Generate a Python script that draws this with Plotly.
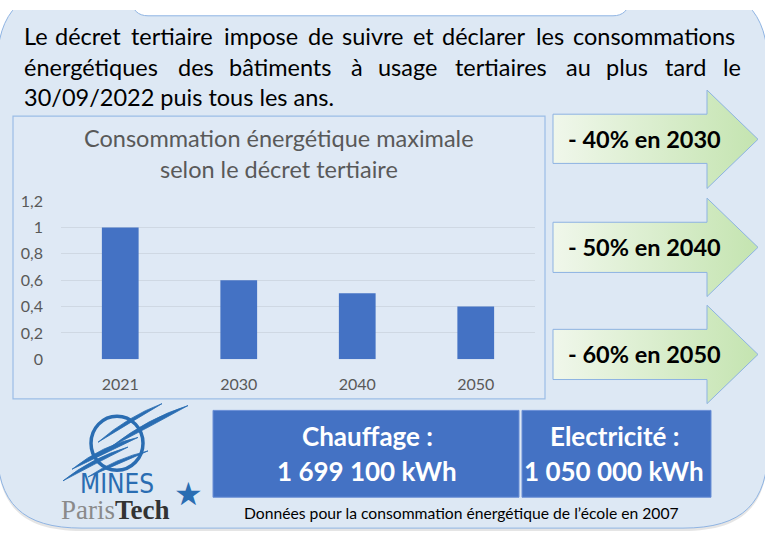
import plotly.graph_objects as go

# ---------------- data ----------------
years = ["2021", "2030", "2040", "2050"]
max_consumption = [1.0, 0.6, 0.5, 0.4]
y_tick_vals = [0, 0.2, 0.4, 0.6, 0.8, 1.0, 1.2]
y_tick_text = ["0", "0,2", "0,4", "0,6", "0,8", "1", "1,2"]
chart_title = ["Consommation énergétique maximale", "selon le décret tertiaire"]
arrow_labels = ["- 40% en 2030", "- 50% en 2040", "- 60% en 2050"]
energy_titles = ["Chauffage :", "Electricité :"]
energy_values = ["1 699 100 kWh", "1 050 000 kWh"]
intro_line1 = "Le décret tertiaire impose de suivre et déclarer les consommations"
intro_line2 = "énergétiques des bâtiments à usage tertiaires au plus tard le"
intro_line3 = "30/09/2022 puis tous les ans."
footnote = "Données pour la consommation énergétique de l’école en 2007"

# ---------------- styles / layout geometry (screen pixels) ----------------
W, H = 765, 540
FONT = "Lato, 'Open Sans', sans-serif"
BG = "#dde8f4"
EDGE = "#8fb4e3"
BLUE = "#4472c4"
GRAY = "#595959"
LOGO = "#2a6db2"

line1_x = [22, 53, 129, 222, 306, 340, 411, 440, 534, 571]
line2_x = [22, 176, 227, 349, 376, 453, 564, 604, 663, 721]
arrow_geo = [(108, 159, 83, 185), (220, 272, 195, 297), (331, 383, 306, 408)]


def rounded_path(x0, y0, x1, y1, r, k=0.62):
    c = r * (1 - k)
    return (f"M {x0+r},{y0} L {x1-r},{y0} C {x1-c},{y0} {x1},{y0+c} {x1},{y0+r} "
            f"L {x1},{y1-r} C {x1},{y1-c} {x1-c},{y1} {x1-r},{y1} "
            f"L {x0+r},{y1} C {x0+c},{y1} {x0},{y1-c} {x0},{y1-r} "
            f"L {x0},{y0+r} C {x0},{y0+c} {x0+c},{y0} {x0+r},{y0} Z")


def swoosh(ax, ay, cx, cy, bx, by, w):
    # tapered curved stroke (thin at both ends)
    return (f"M {ax},{ay} Q {cx},{cy - w} {bx},{by} Q {cx},{cy + w} {ax},{ay} Z")


def txt(x, y, text, size, color="#000000", family=FONT, xanchor="left"):
    return dict(x=x, y=y, xref="x", yref="y", text=text, showarrow=False,
                xanchor=xanchor, yanchor="middle",
                font=dict(family=family, size=size, color=color))


traces = []
annotations = []

# arrows with horizontal gradient (pixel axes x/y)
for (bt, bb, ht, hb), lab in zip(arrow_geo, arrow_labels):
    x0, xh, xt = 553, 707, 758
    mid = (ht + hb) / 2
    traces.append(go.Scatter(
        x=[x0, xh, xh, xt, xh, xh, x0, x0],
        y=[bt, bt, ht, mid, hb, bb, bb, bt],
        mode="lines", fill="toself",
        fillgradient=dict(type="horizontal",
                          colorscale=[[0, "#f0f7eb"], [1, "#c4e4b0"]]),
        line=dict(color="#8db3e2", width=1),
        hoverinfo="skip", showlegend=False, xaxis="x", yaxis="y"))
    annotations.append(txt(566, mid, f"<b>{lab}</b>", 23.5))

# bar chart (x2/y2)
traces.append(go.Bar(x=years, y=max_consumption, marker=dict(color=BLUE, line=dict(width=0)),
                     xaxis="x2", yaxis="y2", showlegend=False, hoverinfo="skip"))

fig = go.Figure(data=traces)

shapes = []
shapes.append(dict(type="path", xref="x", yref="y", layer="below",
                   path=rounded_path(-3, -22, 768, 540, 85, 0.7),
                   fillcolor="rgba(0,0,0,0.10)", line=dict(width=0)))
shapes.append(dict(type="path", xref="x", yref="y", layer="below",
                   path=rounded_path(-3, -25, 768, 537, 85, 0.7),
                   fillcolor=BG, line=dict(color=EDGE, width=1)))
shapes.append(dict(type="path", xref="x", yref="y", layer="below",
                   path=rounded_path(132, -30, 629, 6, 16),
                   fillcolor="#ffffff", line=dict(color=EDGE, width=1)))
shapes.append(dict(type="rect", xref="x", yref="y", layer="below",
                   x0=13, x1=545, y0=110, y1=403,
                   fillcolor="#dfe9f5", line=dict(color="#9cbde6", width=1.2)))
shapes.append(dict(type="rect", xref="x", yref="y", layer="above",
                   x0=213, x1=519, y0=415, y1=505,
                   fillcolor=BLUE, line=dict(color="#6a8fd6", width=1)))
shapes.append(dict(type="rect", xref="x", yref="y", layer="above",
                   x0=522, x1=711, y0=415, y1=505,
                   fillcolor=BLUE, line=dict(color="#6a8fd6", width=1)))
# logo: ring + tapered swooshes
shapes.append(dict(type="circle", xref="x", yref="y", layer="above",
                   x0=91, x1=143, y0=421, y1=477,
                   line=dict(color=LOGO, width=3.5)))
for (ax, ay, cx, cy, bx, by, w) in [
        (98, 448, 128, 425, 162, 408, 4), (112, 452, 148, 428, 188, 410, 5),
        (63, 488, 92, 468, 128, 453, 4), (72, 476, 102, 456, 138, 443, 5),
        (88, 484, 116, 468, 148, 457, 3.5)]:
    shapes.append(dict(type="path", xref="x", yref="y", layer="above",
                       path=swoosh(ax, ay, cx, cy, bx, by, w),
                       fillcolor=LOGO, line=dict(color=LOGO, width=0.8)))

# intro text (justified lines placed word by word)
for word, x in zip(intro_line1.split(" "), line1_x):
    annotations.append(txt(x, 27, word, 23.5))
for word, x in zip(intro_line2.split(" "), line2_x):
    annotations.append(txt(x, 59, word, 23.5))
annotations.append(txt(22, 90, intro_line3, 23.5))

for t, y in zip(chart_title, [133, 165]):
    annotations.append(txt(279, y, t, 23.5, GRAY, xanchor="center"))
for t, v, cx in zip(energy_titles, energy_values, [367, 614]):
    annotations.append(txt(cx, 442, f"<b>{t}</b>", 26, "#ffffff", xanchor="center"))
    annotations.append(txt(cx, 478, f"<b>{v}</b>", 26, "#ffffff", xanchor="center"))
annotations.append(txt(461, 521, footnote, 15.7, xanchor="center"))
annotations.append(txt(117, 491, "MINES", 26, LOGO,
                       family="'Liberation Sans Narrow', 'DejaVu Sans Condensed', sans-serif",
                       xanchor="center"))
annotations.append(txt(115, 518, "<span style='color:#8a8a8a'>Paris</span><b>Tech</b>", 27,
                       "#333333", family="'Liberation Serif', serif", xanchor="center"))
annotations.append(txt(188, 502, "★", 32, LOGO, family="'DejaVu Sans', sans-serif",
                       xanchor="center"))

fig.update_layout(
    width=W, height=H, autosize=False,
    margin=dict(l=0, r=0, t=0, b=0, pad=0),
    paper_bgcolor="#ffffff", plot_bgcolor="rgba(0,0,0,0)",
    showlegend=False, hovermode=False,
    bargap=0.69,
    shapes=shapes, annotations=annotations,
    xaxis=dict(domain=[0, 1], range=[0, W], visible=False, fixedrange=True),
    yaxis=dict(domain=[0, 1], range=[H, 0], visible=False, fixedrange=True),
    xaxis2=dict(domain=[61 / W, 535 / W], anchor="y2", type="category",
                showgrid=False, showline=False, ticks="", zeroline=False,
                tickfont=dict(family=FONT, size=16, color=GRAY), ticklabelstandoff=14),
    yaxis2=dict(domain=[1 - 362 / H, 1 - 198 / H], anchor="x2",
                range=[0, 1.2], tickvals=y_tick_vals, ticktext=y_tick_text,
                showgrid=True, gridcolor="#cfd8e3", gridwidth=1, zeroline=False,
                showline=False, ticks="",
                tickfont=dict(family=FONT, size=16, color=GRAY), ticklabelstandoff=17),
)

fig.write_html(
    "out.html",
    config={"displayModeBar": False},
    post_script="document.documentElement.style.margin='0';document.body.style.margin='0';"
                "document.body.style.overflow='hidden';",
)
